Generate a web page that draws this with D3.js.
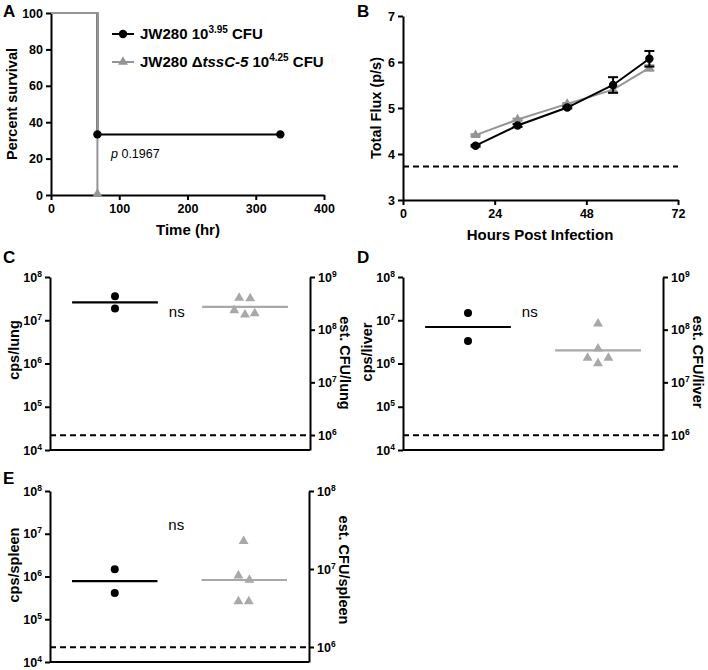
<!DOCTYPE html>
<html><head><meta charset="utf-8">
<script src="https://cdn.jsdelivr.net/npm/d3@7"></script>
<style>
body{margin:0;background:#fff;}
svg text{font-family:"Liberation Sans",Arial,sans-serif;}
</style></head><body>
<svg id="c" width="708" height="670"></svg>
<script>
// ---------- DATA ----------
// Panel A: survival (step curves)
const survWTTime = [0, 68, 336];
const survWTPct = [100, 33.3, 33.3];
const survWTMarkTime = [68, 336];
const survWTMarkPct = [33.3, 33.3];
const survMutTime = [0, 68];
const survMutPct = [100, 0];
const survMutMarkTime = [68];
const survMutMarkPct = [0];
const survXTicks = [0, 100, 200, 300, 400];
const survYTicks = [0, 20, 40, 60, 80, 100];
const legendLabels = ["JW280 10^3.95 CFU", "JW280 ΔtssC-5 10^4.25 CFU"];
const pValueText = "0.1967";

// Panel B: total flux (log10 p/s)
const fluxHours = [19, 30, 43, 55, 64.5];
const fluxWT = [4.18, 4.62, 5.01, 5.50, 6.07];
const fluxWTErr = [0.02, 0.03, 0.02, 0.17, 0.17];
const fluxMut = [4.41, 4.75, 5.09, 5.40, 5.87];
const fluxMutErr = [0.02, 0.02, 0.02, 0.06, 0.06];
const fluxLOD = 3.73;
const fluxXTicks = [0, 24, 48, 72];
const fluxYTicks = [3, 4, 5, 6, 7];

// Panels C-E: organ burdens (cps), x in category units (WT = 1, mutant = 3)
const lungWT = [3.6e7, 1.86e7];
const lungWTx = [1, 1];
const lungMut = [3.3e7, 3.2e7, 1.7e7, 1.35e7, 1.43e7];
const lungMutx = [2.91, 3.08, 2.835, 3.0, 3.15];
const liverWT = [1.48e7, 3.3e6];
const liverWTx = [1, 1];
const liverMut = [8.3e6, 2.2e6, 1.35e6, 1.35e6, 1.0e6];
const liverMutx = [3.0, 3.0, 2.84, 3.16, 3.0];
const spleenWT = [1.48e6, 4.1e5];
const spleenWTx = [1, 1];
const spleenMut = [6.7e6, 1.04e6, 8.3e5, 2.6e5, 2.6e5];
const spleenMutx = [2.99, 2.91, 3.08, 2.91, 3.07];
const cpsLOD = 2.2e4;
const cpsTicks = [1e4, 1e5, 1e6, 1e7, 1e8];
const nsLabel = "ns";

// ---------- DRAWING ----------
const svg = d3.select("#c");
const BLACK = "#000", GREY = "#959595", LGREY = "#a8a8a8";
const FONT = '"Liberation Sans",Arial,sans-serif';

function styleAxis(g, fs) {
  g.attr("font-family", FONT);
  g.selectAll("path.domain").attr("stroke", BLACK).attr("stroke-width", 2);
  g.selectAll(".tick line").attr("stroke", BLACK).attr("stroke-width", 2);
  g.selectAll(".tick text").attr("font-size", fs).attr("font-weight", "bold").attr("fill", BLACK);
}
function supLabels(g) {
  g.selectAll(".tick text").each(function (d) {
    const e = Math.round(Math.log10(d));
    const t = d3.select(this);
    t.text("10");
    t.append("tspan").attr("dy", -5).attr("font-size", 8.5).text(e);
  });
}
function panelLetter(x, y, s) {
  svg.append("text").attr("x", x).attr("y", y).attr("font-size", 17)
    .attr("font-weight", "bold").text(s);
}
function title(x, y, rot, s, fs) {
  svg.append("text").attr("transform", `translate(${x},${y}) rotate(${rot})`)
    .attr("text-anchor", "middle").attr("dy", "0.35em")
    .attr("font-size", fs || 14.5).attr("font-weight", "bold").text(s);
}
const tri = d3.symbol().type(d3.symbolTriangle).size(42);

// ===== Panel A =====
{
  const x = d3.scaleLinear().domain([0, 400]).range([51, 324]);
  const y = d3.scaleLinear().domain([0, 100]).range([195, 13]);
  const gx = svg.append("g").attr("transform", `translate(0,${y(0)})`)
    .call(d3.axisBottom(x).tickValues(survXTicks).tickSize(5).tickPadding(4).tickSizeOuter(0));
  styleAxis(gx, 12.5);
  const gy = svg.append("g").attr("transform", `translate(${x(0)},0)`)
    .call(d3.axisLeft(y).tickValues(survYTicks).tickSize(5).tickPadding(3).tickSizeOuter(0));
  styleAxis(gy, 12.5);
  const line = d3.line().curve(d3.curveStepAfter).x(d => x(d[0])).y(d => y(d[1]));
  svg.append("path").datum(d3.zip(survWTTime, survWTPct)).attr("d", line)
    .attr("fill", "none").attr("stroke", BLACK).attr("stroke-width", 2);
  svg.append("path").datum(d3.zip(survMutTime, survMutPct)).attr("d", line)
    .attr("fill", "none").attr("stroke", GREY).attr("stroke-width", 2);
  d3.zip(survWTMarkTime, survWTMarkPct).forEach(p =>
    svg.append("circle").attr("cx", x(p[0])).attr("cy", y(p[1])).attr("r", 4.2).attr("fill", BLACK));
  d3.zip(survMutMarkTime, survMutMarkPct).forEach(p =>
    svg.append("path").attr("d", tri).attr("transform", `translate(${x(p[0])},${y(p[1]) - 1})`).attr("fill", GREY));
  title(12, 104, -90, "Percent survival");
  svg.append("text").attr("x", 188).attr("y", 235).attr("text-anchor", "middle")
    .attr("font-size", 15).attr("font-weight", "bold").text("Time (hr)");
  // legend
  const lg = [[34, BLACK, "c"], [62, GREY, "t"]];
  lg.forEach((l, i) => {
    svg.append("line").attr("x1", 112).attr("x2", 134).attr("y1", l[0]).attr("y2", l[0])
      .attr("stroke", l[1]).attr("stroke-width", 2);
    if (l[2] === "c") svg.append("circle").attr("cx", 123).attr("cy", l[0]).attr("r", 4.2).attr("fill", l[1]);
    else svg.append("path").attr("d", tri).attr("transform", `translate(123,${l[0]})`).attr("fill", l[1]);
  });
  const t1 = svg.append("text").attr("x", 140).attr("y", 39).attr("font-size", 15).attr("font-weight", "bold");
  const p1 = legendLabels[0].split("^");
  t1.append("tspan").text(p1[0]);
  t1.append("tspan").attr("dy", -6).attr("font-size", 10).text(p1[1].split(" ")[0]);
  t1.append("tspan").attr("dy", 6).text(" " + p1[1].split(" ").slice(1).join(" "));
  const t2 = svg.append("text").attr("x", 140).attr("y", 67).attr("font-size", 15).attr("font-weight", "bold");
  const p2 = legendLabels[1].split("^");
  const pre = p2[0].split(" "); // ["JW280","ΔtssC-5","10"]
  t2.append("tspan").text(pre[0] + " Δ");
  t2.append("tspan").attr("font-style", "italic").text(pre[1].slice(1));
  t2.append("tspan").text(" " + pre[2]);
  t2.append("tspan").attr("dy", -6).attr("font-size", 10).text(p2[1].split(" ")[0]);
  t2.append("tspan").attr("dy", 6).text(" " + p2[1].split(" ").slice(1).join(" "));
  const pt = svg.append("text").attr("x", 111).attr("y", 158).attr("font-size", 12.5);
  pt.append("tspan").attr("font-style", "italic").text("p");
  pt.append("tspan").text(" " + pValueText);
}

// ===== Panel B =====
{
  const x = d3.scaleLinear().domain([0, 72]).range([403, 678]);
  const y = d3.scaleLinear().domain([3, 7]).range([200, 16]);
  const gx = svg.append("g").attr("transform", `translate(0,${y(3)})`)
    .call(d3.axisBottom(x).tickValues(fluxXTicks).tickFormat(d3.format("d")).tickSize(5).tickPadding(4).tickSizeOuter(0));
  styleAxis(gx, 12.5);
  const gy = svg.append("g").attr("transform", `translate(${x(0)},0)`)
    .call(d3.axisLeft(y).tickValues(fluxYTicks).tickFormat(d3.format("d")).tickSize(5).tickPadding(3).tickSizeOuter(0));
  styleAxis(gy, 12.5);
  svg.append("line").attr("x1", x(0)).attr("x2", x(72)).attr("y1", y(fluxLOD)).attr("y2", y(fluxLOD))
    .attr("stroke", BLACK).attr("stroke-width", 2).attr("stroke-dasharray", "6,4");
  const line = d3.line().x(d => x(d[0])).y(d => y(d[1]));
  const err = (xs, ys, es, col) => xs.forEach((h, i) => {
    const g = svg.append("g").attr("stroke", col).attr("stroke-width", 2);
    g.append("line").attr("x1", x(h)).attr("x2", x(h)).attr("y1", y(ys[i] - es[i])).attr("y2", y(ys[i] + es[i]));
    [ys[i] - es[i], ys[i] + es[i]].forEach(v =>
      g.append("line").attr("x1", x(h) - 5).attr("x2", x(h) + 5).attr("y1", y(v)).attr("y2", y(v)));
  });
  err(fluxHours, fluxMut, fluxMutErr, GREY);
  svg.append("path").datum(d3.zip(fluxHours, fluxMut)).attr("d", line)
    .attr("fill", "none").attr("stroke", GREY).attr("stroke-width", 2);
  fluxHours.forEach((h, i) => svg.append("path").attr("d", tri)
    .attr("transform", `translate(${x(h)},${y(fluxMut[i])})`).attr("fill", GREY));
  err(fluxHours, fluxWT, fluxWTErr, BLACK);
  svg.append("path").datum(d3.zip(fluxHours, fluxWT)).attr("d", line)
    .attr("fill", "none").attr("stroke", BLACK).attr("stroke-width", 2);
  fluxHours.forEach((h, i) => svg.append("circle").attr("cx", x(h)).attr("cy", y(fluxWT[i]))
    .attr("r", 4.2).attr("fill", BLACK));
  title(376, 108, -90, "Total Flux (p/s)");
  svg.append("text").attr("x", 540).attr("y", 240).attr("text-anchor", "middle")
    .attr("font-size", 15).attr("font-weight", "bold").text("Hours Post Infection");
}

// ===== Panels C-E =====
function organPanel(o) {
  const x = d3.scaleLinear().domain([0, 4]).range([o.x0, o.x1]);
  const yL = d3.scaleLog().domain([1e4, 1e8]).range([o.yb, o.yt]);
  const yRtmp = d3.scaleLog().domain([o.rLo, o.rHi]).range([o.rLoY, o.yt]);
  const yR = d3.scaleLog().domain([yRtmp.invert(o.yb), o.rHi]).range([o.yb, o.yt]);
  svg.append("line").attr("x1", o.x0).attr("x2", o.x1).attr("y1", o.yb).attr("y2", o.yb)
    .attr("stroke", BLACK).attr("stroke-width", 2);
  const gl = svg.append("g").attr("transform", `translate(${o.x0},0)`)
    .call(d3.axisLeft(yL).tickValues(cpsTicks).tickSize(5).tickPadding(3).tickSizeOuter(0));
  styleAxis(gl, 12.5); supLabels(gl);
  const gr = svg.append("g").attr("transform", `translate(${o.x1},0)`)
    .call(d3.axisRight(yR).tickValues(o.rTicks).tickSize(5).tickPadding(3).tickSizeOuter(0));
  styleAxis(gr, 12.5); supLabels(gr);
  svg.append("line").attr("x1", o.x0).attr("x2", o.x1).attr("y1", yL(cpsLOD)).attr("y2", yL(cpsLOD))
    .attr("stroke", BLACK).attr("stroke-width", 2).attr("stroke-dasharray", "6,4");
  const gm = a => Math.pow(10, d3.mean(a, v => Math.log10(v)));
  const mWT = gm(o.wt), mMut = gm(o.mut);
  svg.append("line").attr("x1", x(1 - 0.66)).attr("x2", x(1 + 0.66)).attr("y1", yL(mWT)).attr("y2", yL(mWT))
    .attr("stroke", BLACK).attr("stroke-width", 2.2);
  svg.append("line").attr("x1", x(3 - 0.66)).attr("x2", x(3 + 0.66)).attr("y1", yL(mMut)).attr("y2", yL(mMut))
    .attr("stroke", LGREY).attr("stroke-width", 2.2);
  o.wt.forEach((v, i) => svg.append("circle").attr("cx", x(o.wtx[i])).attr("cy", yL(v)).attr("r", 4).attr("fill", BLACK));
  o.mut.forEach((v, i) => svg.append("path").attr("d", tri)
    .attr("transform", `translate(${x(o.mutx[i])},${yL(v)})`).attr("fill", LGREY));
  svg.append("text").attr("x", x(1.95)).attr("y", yL(10 ** 7.2)).attr("dy", "0.35em")
    .attr("text-anchor", "middle").attr("font-size", 15).text(nsLabel);
  title(o.x0 - 36, o.lTitleY, -90, o.lTitle);
  title(o.x1 + 35, o.rTitleY, 90, o.rTitle);
}
organPanel({ x0: 50, x1: 310, yt: 277, yb: 450, rLo: 1e6, rHi: 1e9, rLoY: 435, rTicks: [1e6, 1e7, 1e8, 1e9],
  wt: lungWT, wtx: lungWTx, mut: lungMut, mutx: lungMutx,
  lTitle: "cps/lung", lTitleY: 350, rTitle: "est. CFU/lung", rTitleY: 363 });
organPanel({ x0: 403, x1: 663, yt: 277, yb: 450, rLo: 1e6, rHi: 1e9, rLoY: 435, rTicks: [1e6, 1e7, 1e8, 1e9],
  wt: liverWT, wtx: liverWTx, mut: liverMut, mutx: liverMutx,
  lTitle: "cps/liver", lTitleY: 352, rTitle: "est. CFU/liver", rTitleY: 362 });
organPanel({ x0: 50, x1: 309, yt: 491, yb: 662, rLo: 1e6, rHi: 1e8, rLoY: 647, rTicks: [1e6, 1e7, 1e8],
  wt: spleenWT, wtx: spleenWTx, mut: spleenMut, mutx: spleenMutx,
  lTitle: "cps/spleen", lTitleY: 565, rTitle: "est. CFU/spleen", rTitleY: 570 });

panelLetter(3, 17, "A");
panelLetter(357, 17, "B");
panelLetter(3, 263, "C");
panelLetter(357, 263, "D");
panelLetter(3, 484, "E");
</script></body></html>
